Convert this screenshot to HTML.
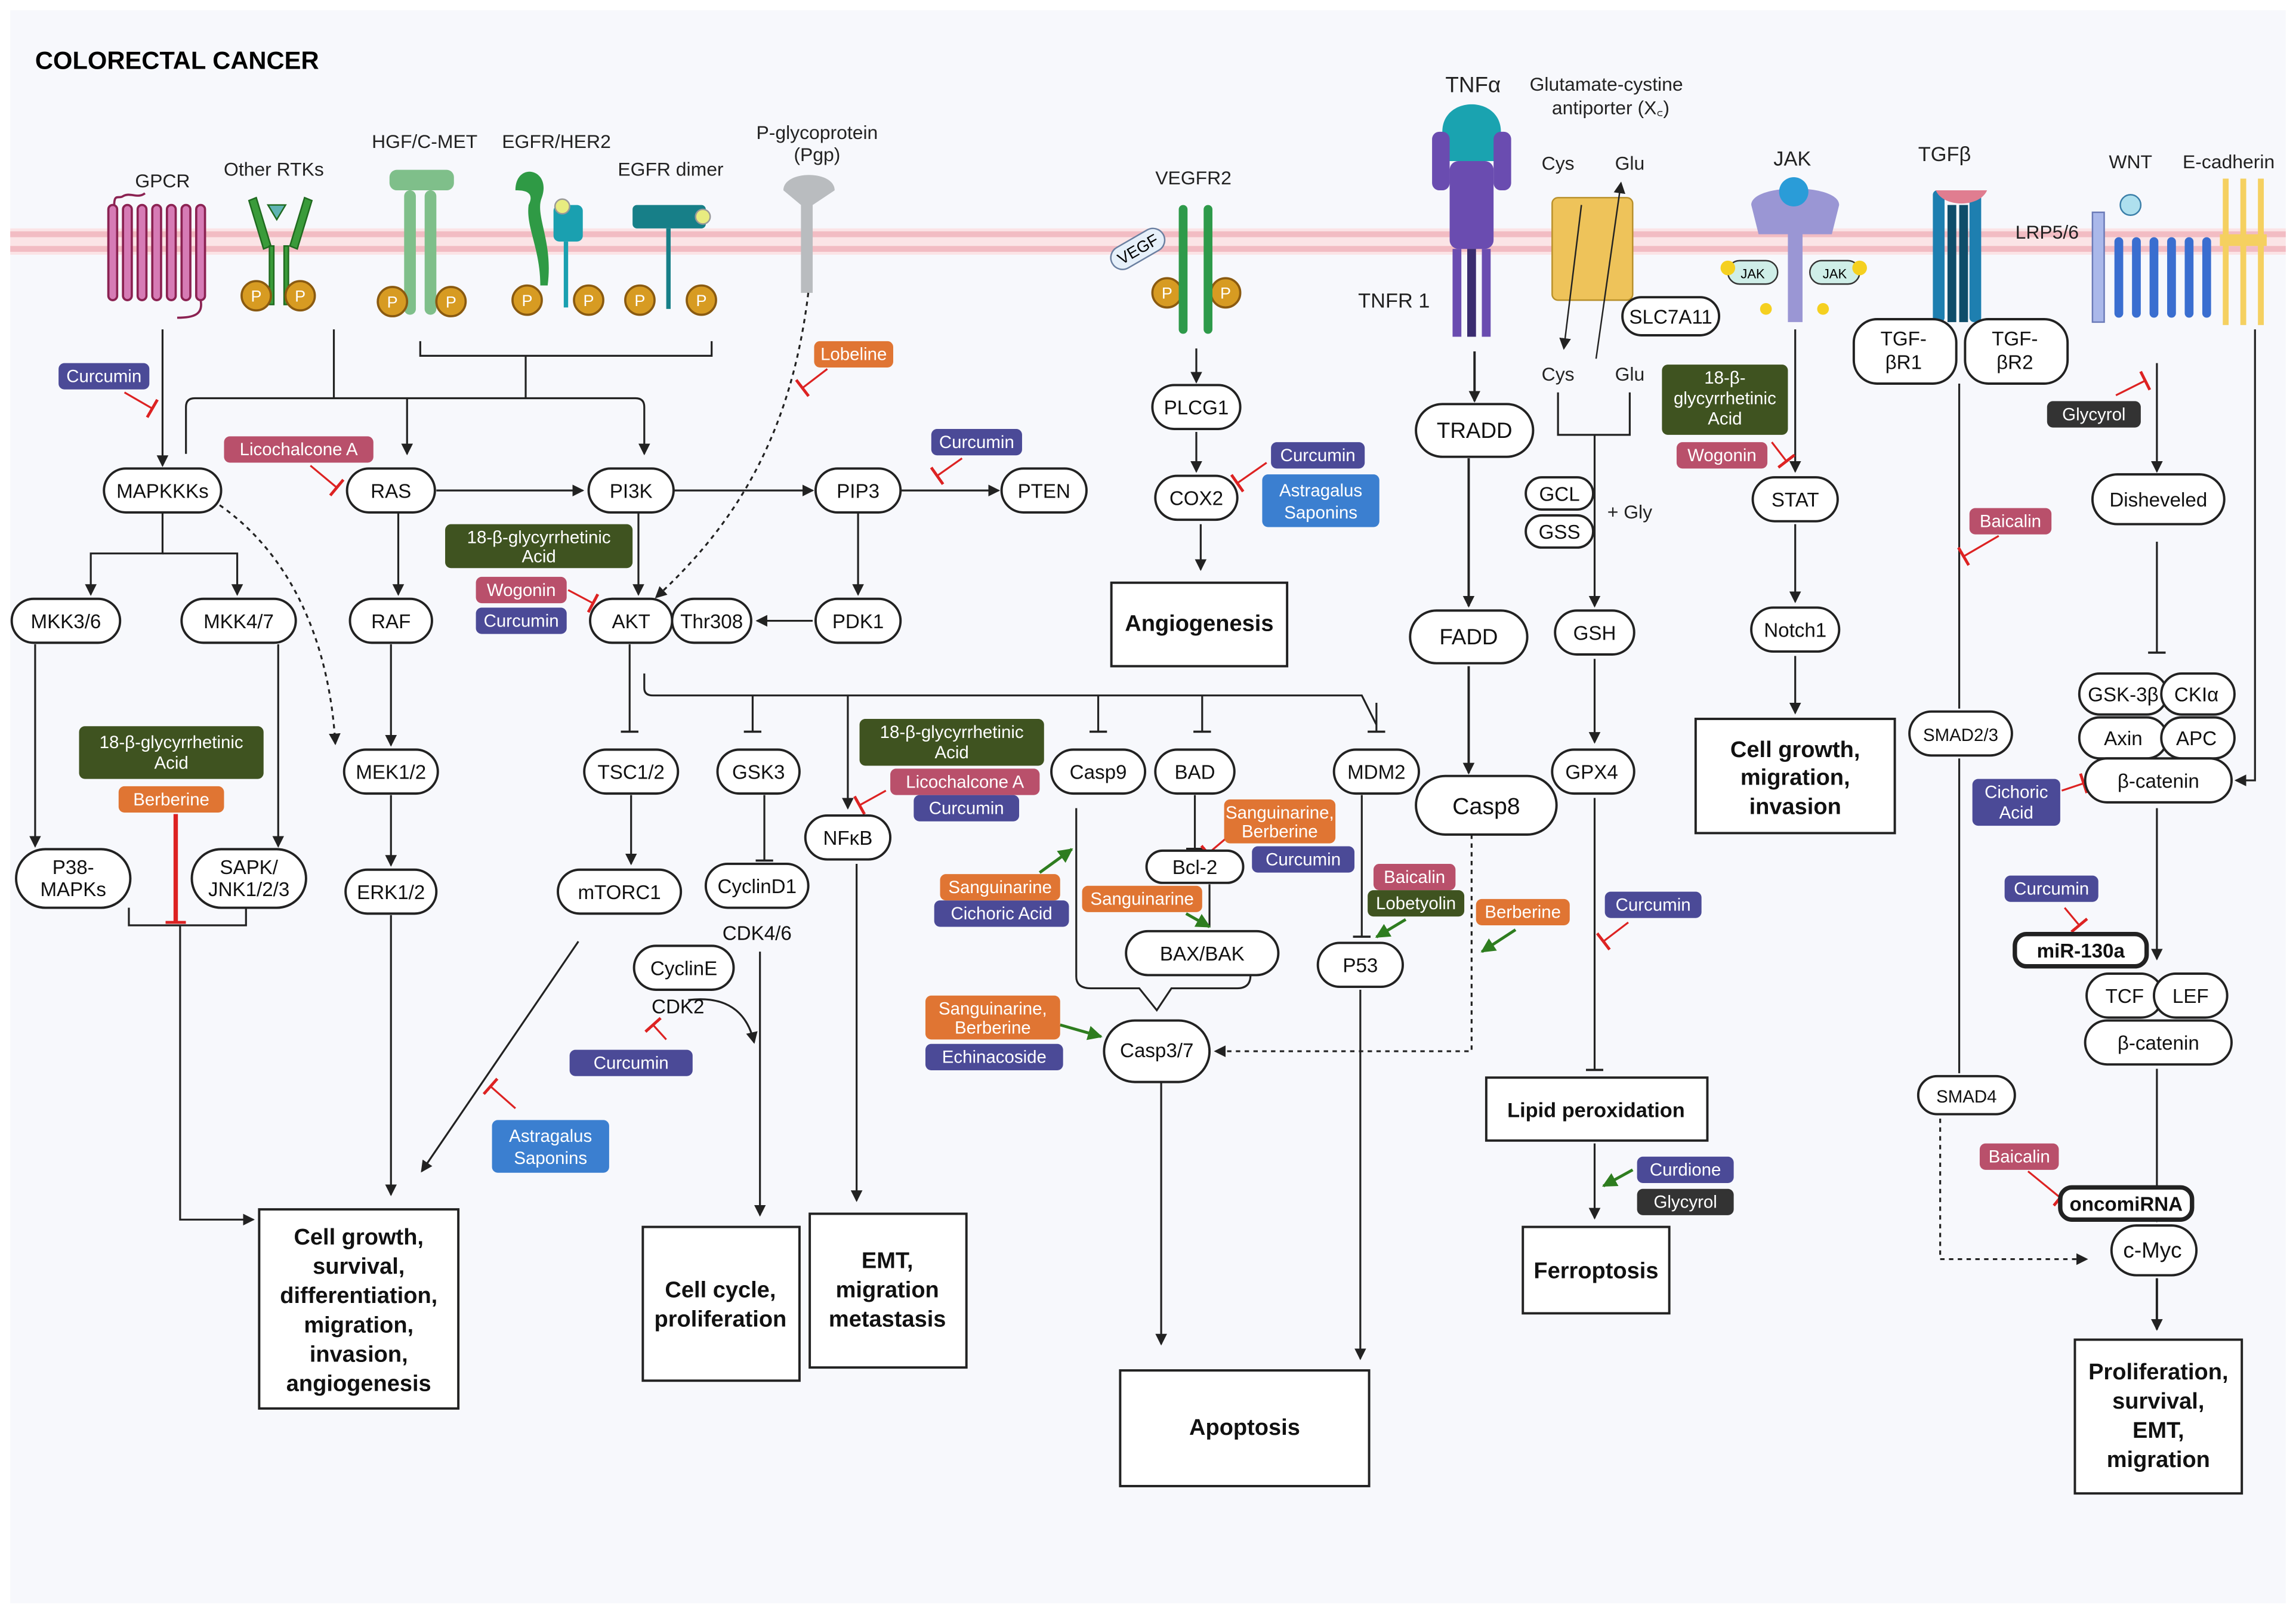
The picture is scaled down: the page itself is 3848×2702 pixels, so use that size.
<!DOCTYPE html>
<html><head><meta charset="utf-8"><style>
html,body{margin:0;padding:0;background:#fff}
svg{display:block}
text{font-family:"Liberation Sans",sans-serif}
</style></head><body>
<svg width="3848" height="2702" viewBox="0 0 1568 1101" preserveAspectRatio="none" xmlns="http://www.w3.org/2000/svg">
<defs>
<marker id="a" markerWidth="8" markerHeight="8" refX="7" refY="4" orient="auto" markerUnits="userSpaceOnUse"><path d="M0,0 L8,4 L0,8 z" fill="#222"/></marker>
<marker id="b" markerWidth="2" markerHeight="12" refX="1" refY="6" orient="auto" markerUnits="userSpaceOnUse"><rect x="0" y="0" width="1.5" height="12" fill="#222"/></marker>
<marker id="r" markerWidth="3" markerHeight="14" refX="1" refY="7" orient="auto" markerUnits="userSpaceOnUse"><rect x="0" y="0" width="2" height="14" fill="#d22"/></marker>
<marker id="g" markerWidth="10" markerHeight="10" refX="9" refY="5" orient="auto" markerUnits="userSpaceOnUse"><path d="M0,0 L10,5 L0,10 z" fill="#2e7d1f"/></marker>
</defs>
<rect x="0" y="0" width="1568" height="1101" fill="#fff"/>
<rect x="7" y="7" width="1554" height="1088" fill="#f7f8fc"/>
<rect x="7" y="156" width="1554" height="18" fill="#fbe4e6"/>
<rect x="7" y="158" width="1554" height="4" fill="#f2bcc3"/>
<rect x="7" y="168" width="1554" height="4" fill="#f2bcc3"/>
<text x="24" y="47" font-size="17" font-weight="bold">COLORECTAL CANCER</text>

<g font-size="13" text-anchor="middle" fill="#222">
<text x="111" y="128">GPCR</text><text x="187" y="120">Other RTKs</text><text x="290" y="101">HGF/C-MET</text>
<text x="380" y="101">EGFR/HER2</text><text x="458" y="120">EGFR dimer</text>
<text x="558" y="95">P-glycoprotein</text><text x="558" y="110">(Pgp)</text>
<text x="815" y="126">VEGFR2</text><text x="1006" y="63" font-size="15">TNFα</text>
<text x="1097" y="62">Glutamate-cystine</text><text x="1100" y="78">antiporter (X꜀)</text>
<text x="1064" y="116">Cys</text><text x="1113" y="116">Glu</text>
<text x="1064" y="260">Cys</text><text x="1113" y="260">Glu</text><text x="1113" y="354">+ Gly</text>
<text x="1224" y="113" font-size="14">JAK</text><text x="1328" y="110" font-size="14">TGFβ</text>
<text x="1455" y="115">WNT</text><text x="1522" y="115">E-cadherin</text>
<text x="1398" y="163">LRP5/6</text><text x="952" y="210" font-size="14">TNFR 1</text>
</g>

<g stroke="#8b2252" stroke-width="1.5" fill="#d67bb5">
<path d="M78,140 c0,-8 3,-4 6,-6 c5,-3 10,2 15,-2" fill="none"/>
<rect x="74" y="140" width="6" height="65" rx="3"/><rect x="84" y="140" width="6" height="65" rx="3"/><rect x="94" y="140" width="6" height="65" rx="3"/><rect x="104" y="140" width="6" height="65" rx="3"/><rect x="114" y="140" width="6" height="65" rx="3"/><rect x="124" y="140" width="6" height="65" rx="3"/><rect x="134" y="140" width="6" height="65" rx="3"/>
<path d="M137,205 c2,10 -5,12 -16,12" fill="none"/>
</g>
<g fill="#3a9b3a" stroke="#1f6a1f">
<path d="M175,135 l10,33 l-5,2 l-10,-33 z"/><path d="M208,135 l-10,33 l5,2 l10,-33 z"/>
<polygon points="183,140 195,140 189,150" fill="#5fb3b3"/>
<rect x="184" y="168" width="3" height="40"/><rect x="194" y="168" width="3" height="40"/>
</g>
<g fill="#7fbf8a" stroke="none">
<rect x="266" y="116" width="44" height="14" rx="5"/><rect x="276" y="130" width="8" height="85" rx="4"/><rect x="290" y="130" width="8" height="85" rx="4"/>
</g>
<g fill="#2f9a45"><path d="M352,130 c0,-20 25,-15 18,5 c-5,12 8,30 4,60 l-5,0 c0,-25 -10,-40 -8,-55 c5,-10 -5,-10 -9,-10z"/></g>
<g fill="#1aa0b0"><rect x="378" y="140" width="20" height="25" rx="4"/><rect x="385" y="165" width="3" height="45"/></g>
<circle cx="384" cy="141" r="5" fill="#e8ec80" stroke="#999"/>
<g fill="#177f88"><rect x="432" y="140" width="50" height="16" rx="3"/><rect x="455" y="156" width="3" height="55"/></g>
<circle cx="480" cy="148" r="5" fill="#e8ec80" stroke="#999"/>
<path d="M535,130 c0,-14 35,-14 35,0 l-15,10 l0,60 l-8,0 l0,-60 z" fill="#b9bcbf"/>
<g fill="#d79b22" stroke="#8a5a10" stroke-width="1.5" font-size="11">
<circle cx="175" cy="202" r="10"/><circle cx="205" cy="202" r="10"/>
<circle cx="268" cy="206" r="10"/><circle cx="308" cy="206" r="10"/>
<circle cx="360" cy="205" r="10"/><circle cx="402" cy="205" r="10"/>
<circle cx="437" cy="205" r="10"/><circle cx="479" cy="205" r="10"/>
<circle cx="797" cy="200" r="10"/><circle cx="837" cy="200" r="10"/>
</g>
<g fill="#fff" font-size="11" text-anchor="middle"><text x="175" y="206">P</text><text x="205" y="206">P</text><text x="268" y="210">P</text><text x="308" y="210">P</text><text x="360" y="209">P</text><text x="402" y="209">P</text><text x="437" y="209">P</text><text x="479" y="209">P</text><text x="797" y="204">P</text><text x="837" y="204">P</text></g>
<g fill="#2e9a4a"><rect x="805" y="140" width="6" height="88" rx="3"/><rect x="822" y="140" width="6" height="88" rx="3"/></g>
<rect x="757" y="162" width="40" height="16" rx="8" fill="#e6f0fa" stroke="#6a7fa0" transform="rotate(-30 777 170)"/><text x="777" y="174" font-size="11" text-anchor="middle" transform="rotate(-30 777 170)">VEGF</text>
<path d="M985,90 c0,-25 40,-25 40,0 l0,20 l-40,0z" fill="#1aa3b0"/>
<g fill="#6a4cb0"><rect x="978" y="90" width="12" height="40" rx="5"/><rect x="1020" y="90" width="12" height="40" rx="5"/><rect x="990" y="110" width="30" height="60" rx="6"/><rect x="992" y="170" width="6" height="60"/><rect x="1012" y="170" width="6" height="60"/><rect x="1002" y="170" width="6" height="60" fill="#3a2c70"/></g>
<g fill="#eec35a" stroke="#b8902a"><rect x="1060" y="135" width="55" height="70" rx="4"/></g>
<path d="M1080,140 L1068,238" stroke="#222" marker-end="url(#a)"/><path d="M1090,245 L1107,125" stroke="#222" marker-end="url(#a)"/>
<path d="M1196,140 c0,-15 60,-15 60,0 l-5,20 l-20,0 l0,60 l-10,0 l0,-60 l-20,0z" fill="#9a96d4"/>
<circle cx="1225" cy="131" r="10" fill="#2a9cd8"/>
<rect x="1180" y="178" width="34" height="16" rx="8" fill="#cfeee8" stroke="#333"/><rect x="1236" y="178" width="34" height="16" rx="8" fill="#cfeee8" stroke="#333"/>
<text x="1197" y="190" font-size="9" text-anchor="middle">JAK</text><text x="1253" y="190" font-size="9" text-anchor="middle">JAK</text>
<circle cx="1180" cy="183" r="5" fill="#f5d020"/><circle cx="1270" cy="183" r="5" fill="#f5d020"/><circle cx="1206" cy="211" r="4" fill="#f5d020"/><circle cx="1245" cy="211" r="4" fill="#f5d020"/>
<g fill="#1e7fb0"><rect x="1320" y="130" width="8" height="90" rx="3"/><rect x="1345" y="130" width="8" height="90" rx="3"/><rect x="1330" y="140" width="6" height="80" fill="#0f4d6a"/><rect x="1338" y="140" width="6" height="80" fill="#0f4d6a"/></g>
<path d="M1322,130 c5,12 30,12 35,0" fill="#e07d90"/>
<circle cx="1455" cy="140" r="7" fill="#aee0ee" stroke="#3a7ea8"/>
<rect x="1429" y="145" width="8" height="75" fill="#aab8ea" stroke="#6a7ab8"/>
<g fill="#3a6ed0"><rect x="1444" y="162" width="6" height="55" rx="3"/><rect x="1456" y="162" width="6" height="55" rx="3"/><rect x="1468" y="162" width="6" height="55" rx="3"/><rect x="1480" y="162" width="6" height="55" rx="3"/><rect x="1492" y="162" width="6" height="55" rx="3"/><rect x="1504" y="162" width="6" height="55" rx="3"/></g>
<g fill="#f5d060"><rect x="1518" y="122" width="4" height="100"/><rect x="1530" y="122" width="4" height="100"/><rect x="1542" y="122" width="4" height="100"/><rect x="1516" y="160" width="32" height="8"/></g>

<g stroke="#222" stroke-width="1.3" fill="none">
<path d="M111,225 V318" marker-end="url(#a)"/>
<path d="M228,225 V272"/>
<path d="M287,233 v10 h199 v-10"/><path d="M359,243 V272"/>
<path d="M127,310 V278 q0,-6 6,-6 H434 q6,0 6,6 V310" marker-end="url(#a)"/>
<path d="M278,272 V310" marker-end="url(#a)"/>
<path d="M298,335 H398" marker-end="url(#a)"/>
<path d="M460,335 H555" marker-end="url(#a)"/>
<path d="M615,335 H682" marker-end="url(#a)"/>
<path d="M586,350 V406" marker-end="url(#a)"/>
<path d="M555,424 H517" marker-end="url(#a)"/>
<path d="M436,350 V406" marker-end="url(#a)"/>
<path d="M552,200 C540,300 500,360 448,408" stroke-dasharray="3,3" marker-end="url(#a)"/>
<path d="M150,345 C200,380 225,440 229,508" stroke-dasharray="3,3" marker-end="url(#a)"/>
<path d="M111,350 V378 H62 V406" marker-end="url(#a)"/><path d="M111,378 H162 V406" marker-end="url(#a)"/>
<path d="M272,350 V406" marker-end="url(#a)"/>
<path d="M267,440 V509" marker-end="url(#a)"/>
<path d="M267,543 V591" marker-end="url(#a)"/>
<path d="M267,625 V816" marker-end="url(#a)"/>
<path d="M24,440 V578" marker-end="url(#a)"/>
<path d="M190,440 V578" marker-end="url(#a)"/>
<path d="M88,620 v12 h80 v-12"/><path d="M123,632 V833 H173" marker-end="url(#a)"/>
<path d="M395,643 L288,800" marker-end="url(#a)"/>
<path d="M430,440 V500" marker-end="url(#b)"/>
<path d="M440,460 V470 q0,5 6,5 H930 L940,495" /><path d="M940,480 L940,500" marker-end="url(#b)"/>
<path d="M514,475 V500" marker-end="url(#b)"/>
<path d="M579,475 V552" marker-end="url(#a)"/>
<path d="M750,475 V500" marker-end="url(#b)"/>
<path d="M821,475 V500" marker-end="url(#b)"/>
<path d="M431,543 V590" marker-end="url(#a)"/>
<path d="M522,543 V588" marker-end="url(#b)"/>
<path d="M519,650 V830" marker-end="url(#a)"/>
<path d="M470,683 C495,680 510,690 515,712" marker-end="url(#a)"/>
<path d="M585,590 V820" marker-end="url(#a)"/>
<path d="M735,552 V667 q0,8 10,8 H778 L790,690 L800,675 H845 q9,0 9,-9"/>
<path d="M816,543 V580" marker-end="url(#b)"/>
<path d="M826,604 V633"/>
<path d="M793,737 V918" marker-end="url(#a)"/>
<path d="M930,543 V640" marker-end="url(#b)"/>
<path d="M929,676 V928" marker-end="url(#a)"/>
<path d="M1005,570 V718 H830" stroke-dasharray="3,3" marker-end="url(#a)"/>
<path d="M1007,240 V274" marker-end="url(#a)" stroke-width="1.6"/>
<path d="M1003,313 V414" marker-end="url(#a)" stroke-width="1.6"/>
<path d="M1003,455 V528" marker-end="url(#a)" stroke-width="1.6"/>
<path d="M1064,268 V297 H1113 V268"/><path d="M1089,297 V414" marker-end="url(#a)"/>
<path d="M1089,450 V507" marker-end="url(#a)"/>
<path d="M1089,545 V731" marker-end="url(#b)"/>
<path d="M1089,781 V832" marker-end="url(#a)"/>
<path d="M1226,225 V322" marker-end="url(#a)"/>
<path d="M1226,358 V411" marker-end="url(#a)"/>
<path d="M1226,448 V487" marker-end="url(#a)"/>
<path d="M1338,262 V484"/>
<path d="M1338,518 V733"/>
<path d="M1325,764 V860 H1425" stroke-dasharray="3,3" marker-end="url(#a)"/>
<path d="M1473,248 V322" marker-end="url(#a)"/>
<path d="M1473,370 V446" marker-end="url(#b)"/>
<path d="M1540,225 V533 H1527" marker-end="url(#a)"/>
<path d="M1473,552 V655" marker-end="url(#a)"/>
<path d="M1473,730 V834" marker-end="url(#a)"/>
<path d="M1473,873 V908" marker-end="url(#a)" stroke-width="1.6"/>
<path d="M817,238 V261" marker-end="url(#a)"/>
<path d="M817,295 V322" marker-end="url(#a)"/>
<path d="M820,358 V389" marker-end="url(#a)"/>
</g>

<g stroke="#d22" stroke-width="1.3" fill="none">
<path d="M85,268 L104,279" marker-end="url(#r)"/>
<path d="M212,318 L230,333" marker-end="url(#r)"/>
<path d="M565,252 L548,265" marker-end="url(#r)"/>
<path d="M657,313 L640,325" marker-end="url(#r)"/>
<path d="M388,403 L405,412" marker-end="url(#r)"/>
<path d="M865,316 L845,330" marker-end="url(#r)"/>
<path d="M120,556 V630" stroke-width="3" marker-end="url(#r)"/>
<path d="M605,540 L587,550" marker-end="url(#r)"/>
<path d="M838,572 L825,583" marker-end="url(#r)"/>
<path d="M455,710 L446,700" marker-end="url(#r)"/>
<path d="M352,757 L335,742" marker-end="url(#r)"/>
<path d="M1112,630 L1095,643" marker-end="url(#r)"/>
<path d="M1210,302 L1220,315" marker-end="url(#r)"/>
<path d="M1445,270 L1465,260" marker-end="url(#r)"/>
<path d="M1365,366 L1341,380" marker-end="url(#r)"/>
<path d="M1408,540 L1423,535" marker-end="url(#r)"/>
<path d="M1410,620 L1420,632" marker-end="url(#r)"/>
<path d="M1385,800 L1407,818" marker-end="url(#r)"/>
</g>
<g stroke="#2e7d1f" stroke-width="2" fill="none">
<path d="M710,596 L732,580" marker-end="url(#g)"/>
<path d="M810,624 L826,633" marker-end="url(#g)"/>
<path d="M960,628 L940,640" marker-end="url(#g)"/>
<path d="M1035,635 L1012,650" marker-end="url(#g)"/>
<path d="M724,700 L752,708" marker-end="url(#g)"/>
<path d="M1115,799 L1095,810" marker-end="url(#g)"/>
</g>

<g fill="#fff" stroke="#222" stroke-width="1.6">
<rect x="71" y="320" width="80" height="30" rx="15"/>
<rect x="237" y="320" width="60" height="30" rx="15"/>
<rect x="402" y="320" width="58" height="30" rx="15"/>
<rect x="557" y="320" width="58" height="30" rx="15"/>
<rect x="684" y="320" width="58" height="30" rx="15"/>
<rect x="403" y="409" width="56" height="30" rx="15"/>
<rect x="459" y="409" width="54" height="30" rx="15"/>
<rect x="557" y="409" width="58" height="30" rx="15"/>
<rect x="8" y="409" width="74" height="30" rx="15"/>
<rect x="124" y="409" width="78" height="30" rx="15"/>
<rect x="239" y="409" width="56" height="30" rx="15"/>
<rect x="235" y="512" width="64" height="30" rx="15"/>
<rect x="236" y="594" width="62" height="30" rx="15"/>
<rect x="11" y="580" width="78" height="40" rx="20"/>
<rect x="131" y="580" width="78" height="40" rx="20"/>
<rect x="399" y="512" width="64" height="30" rx="15"/>
<rect x="381" y="594" width="84" height="30" rx="15"/>
<rect x="490" y="512" width="56" height="30" rx="15"/>
<rect x="482" y="590" width="70" height="30" rx="15"/>
<rect x="433" y="646" width="68" height="30" rx="15"/>
<rect x="550" y="557" width="58" height="30" rx="15"/>
<rect x="718" y="512" width="64" height="30" rx="15"/>
<rect x="789" y="512" width="54" height="30" rx="15"/>
<rect x="783" y="581" width="66" height="22" rx="11"/>
<rect x="769" y="636" width="104" height="30" rx="15"/>
<rect x="754" y="697" width="72" height="42" rx="21"/>
<rect x="911" y="512" width="58" height="30" rx="15"/>
<rect x="900" y="644" width="58" height="30" rx="15"/>
<rect x="787" y="263" width="60" height="30" rx="15"/>
<rect x="789" y="325" width="56" height="30" rx="15"/>
<rect x="967" y="276" width="80" height="36" rx="18"/>
<rect x="963" y="417" width="80" height="36" rx="18"/>
<rect x="967" y="530" width="96" height="40" rx="20"/>
<rect x="1042" y="326" width="46" height="22" rx="11"/>
<rect x="1042" y="352" width="46" height="22" rx="11"/>
<rect x="1062" y="417" width="54" height="30" rx="15"/>
<rect x="1060" y="512" width="56" height="30" rx="15"/>
<rect x="1108" y="203" width="66" height="26" rx="13"/>
<rect x="1197" y="326" width="58" height="30" rx="15"/>
<rect x="1196" y="415" width="60" height="30" rx="15"/>
<rect x="1266" y="218" width="70" height="44" rx="16"/>
<rect x="1342" y="218" width="70" height="44" rx="16"/>
<rect x="1304" y="486" width="70" height="30" rx="15"/>
<rect x="1310" y="735" width="66" height="26" rx="13"/>
<rect x="1429" y="324" width="90" height="34" rx="17"/>
<rect x="1420" y="460" width="60" height="28" rx="14"/>
<rect x="1476" y="460" width="50" height="28" rx="14"/>
<rect x="1420" y="490" width="60" height="28" rx="14"/>
<rect x="1476" y="490" width="50" height="28" rx="14"/>
<rect x="1424" y="518" width="100" height="30" rx="15"/>
<rect x="1376" y="638" width="90" height="22" rx="8" stroke-width="3"/>
<rect x="1425" y="665" width="52" height="30" rx="15"/>
<rect x="1471" y="665" width="50" height="30" rx="15"/>
<rect x="1424" y="697" width="100" height="30" rx="15"/>
<rect x="1407" y="811" width="90" height="22" rx="8" stroke-width="3"/>
<rect x="1442" y="837" width="58" height="34" rx="17"/>
<rect x="759" y="398" width="120" height="57"/>
<rect x="1158" y="491" width="136" height="78"/>
<rect x="1417" y="915" width="114" height="105"/>
<rect x="1015" y="736" width="151" height="43"/>
<rect x="1040" y="838" width="100" height="59"/>
<rect x="765" y="936" width="170" height="79"/>
<rect x="439" y="838" width="107" height="105"/>
<rect x="553" y="829" width="107" height="105"/>
<rect x="177" y="826" width="136" height="136"/>
</g>

<g font-size="13.5" text-anchor="middle" fill="#111">
<text x="111" y="340">MAPKKKs</text><text x="267" y="340">RAS</text><text x="431" y="340">PI3K</text><text x="586" y="340">PIP3</text><text x="713" y="340">PTEN</text>
<text x="431" y="429">AKT</text><text x="486" y="429">Thr308</text><text x="586" y="429">PDK1</text>
<text x="45" y="429">MKK3/6</text><text x="163" y="429">MKK4/7</text><text x="267" y="429">RAF</text>
<text x="267" y="532">MEK1/2</text><text x="267" y="614">ERK1/2</text>
<text x="50" y="597">P38-</text><text x="50" y="612">MAPKs</text><text x="170" y="597">SAPK/</text><text x="170" y="612">JNK1/2/3</text>
<text x="431" y="532">TSC1/2</text><text x="423" y="614">mTORC1</text><text x="518" y="532">GSK3</text><text x="517" y="610">CyclinD1</text><text x="517" y="642">CDK4/6</text>
<text x="467" y="666">CyclinE</text><text x="463" y="692">CDK2</text><text x="579" y="577">NFκB</text>
<text x="750" y="532">Casp9</text><text x="816" y="532">BAD</text><text x="816" y="597">Bcl-2</text><text x="821" y="656">BAX/BAK</text><text x="790" y="722">Casp3/7</text>
<text x="940" y="532">MDM2</text><text x="929" y="664">P53</text><text x="817" y="283">PLCG1</text><text x="817" y="345">COX2</text>
<text x="1007" y="299" font-size="15">TRADD</text><text x="1003" y="440" font-size="15">FADD</text><text x="1015" y="556" font-size="16">Casp8</text>
<text x="1065" y="342">GCL</text><text x="1065" y="368">GSS</text><text x="1089" y="437">GSH</text><text x="1087" y="532">GPX4</text>
<text x="1141" y="221">SLC7A11</text><text x="1226" y="346">STAT</text><text x="1226" y="435">Notch1</text>
<text x="1300" y="236">TGF-</text><text x="1300" y="252">βR1</text><text x="1376" y="236">TGF-</text><text x="1376" y="252">βR2</text>
<text x="1339" y="506" font-size="12">SMAD2/3</text><text x="1343" y="753" font-size="12">SMAD4</text>
<text x="1474" y="346">Disheveled</text><text x="1450" y="479">GSK-3β</text><text x="1500" y="479">CKIα</text><text x="1450" y="509">Axin</text><text x="1500" y="509">APC</text>
<text x="1474" y="538">β-catenin</text><text x="1421" y="654" font-weight="bold">miR-130a</text><text x="1451" y="685">TCF</text><text x="1496" y="685">LEF</text>
<text x="1474" y="717">β-catenin</text><text x="1452" y="827" font-weight="bold">oncomiRNA</text><text x="1470" y="859" font-size="15">c-Myc</text>
</g>
<g font-size="15.5" font-weight="bold" text-anchor="middle" fill="#111">
<text x="819" y="431">Angiogenesis</text>
<text x="1226" y="517">Cell growth,</text><text x="1226" y="536">migration,</text><text x="1226" y="556">invasion</text>
<text x="1474" y="942">Proliferation,</text><text x="1474" y="962">survival,</text><text x="1474" y="982">EMT,</text><text x="1474" y="1002">migration</text>
<text x="1090" y="763" font-size="14">Lipid peroxidation</text><text x="1090" y="873">Ferroptosis</text>
<text x="850" y="980">Apoptosis</text>
<text x="492" y="886">Cell cycle,</text><text x="492" y="906">proliferation</text>
<text x="606" y="866">EMT,</text><text x="606" y="886">migration</text><text x="606" y="906">metastasis</text>
<text x="245" y="850">Cell growth,</text><text x="245" y="870">survival,</text><text x="245" y="890">differentiation,</text><text x="245" y="910">migration,</text><text x="245" y="930">invasion,</text><text x="245" y="950">angiogenesis</text>
</g>

<g stroke="none">
<g fill="#4b4a97">
<rect x="40" y="248" width="62" height="18" rx="4"/><rect x="636" y="293" width="62" height="18" rx="4"/><rect x="325" y="415" width="62" height="18" rx="4"/>
<rect x="868" y="302" width="64" height="18" rx="4"/><rect x="624" y="543" width="72" height="18" rx="4"/><rect x="855" y="578" width="70" height="18" rx="4"/>
<rect x="638" y="615" width="92" height="18" rx="4"/><rect x="632" y="713" width="94" height="18" rx="4"/><rect x="389" y="717" width="84" height="18" rx="4"/>
<rect x="1096" y="609" width="66" height="18" rx="4"/><rect x="1347" y="532" width="60" height="32" rx="4"/><rect x="1369" y="598" width="64" height="18" rx="4"/>
<rect x="1118" y="790" width="66" height="18" rx="4"/>
</g>
<g fill="#b9506b">
<rect x="153" y="298" width="102" height="18" rx="4"/><rect x="325" y="394" width="62" height="18" rx="4"/><rect x="608" y="525" width="102" height="18" rx="4"/>
<rect x="938" y="590" width="56" height="18" rx="4"/><rect x="1145" y="302" width="62" height="18" rx="4"/><rect x="1345" y="347" width="56" height="18" rx="4"/>
<rect x="1352" y="781" width="54" height="18" rx="4"/>
</g>
<g fill="#3f5320">
<rect x="304" y="358" width="128" height="30" rx="4"/><rect x="54" y="496" width="126" height="36" rx="4"/><rect x="587" y="491" width="126" height="32" rx="4"/>
<rect x="934" y="608" width="66" height="18" rx="4"/><rect x="1135" y="249" width="86" height="48" rx="4"/>
</g>
<g fill="#e07533">
<rect x="556" y="233" width="54" height="18" rx="4"/><rect x="81" y="537" width="72" height="18" rx="4"/><rect x="836" y="546" width="76" height="30" rx="4"/>
<rect x="642" y="597" width="82" height="18" rx="4"/><rect x="739" y="605" width="82" height="18" rx="4"/><rect x="1008" y="614" width="64" height="18" rx="4"/>
<rect x="632" y="680" width="92" height="30" rx="4"/>
</g>
<g fill="#3b7fd0"><rect x="862" y="324" width="80" height="36" rx="4"/><rect x="336" y="765" width="80" height="36" rx="4"/></g>
<g fill="#333"><rect x="1398" y="274" width="64" height="18" rx="4"/><rect x="1118" y="812" width="66" height="18" rx="4"/></g>
</g>
<g font-size="12" fill="#fff" text-anchor="middle">
<text x="71" y="261">Curcumin</text><text x="667" y="306">Curcumin</text><text x="356" y="428">Curcumin</text><text x="900" y="315">Curcumin</text>
<text x="660" y="556">Curcumin</text><text x="890" y="591">Curcumin</text><text x="684" y="628">Cichoric Acid</text><text x="679" y="726">Echinacoside</text>
<text x="431" y="730">Curcumin</text><text x="1129" y="622">Curcumin</text><text x="1377" y="545">Cichoric</text><text x="1377" y="559">Acid</text>
<text x="1401" y="611">Curcumin</text><text x="1151" y="803">Curdione</text>
<text x="204" y="311">Licochalcone A</text><text x="356" y="407">Wogonin</text><text x="659" y="538">Licochalcone A</text><text x="966" y="603">Baicalin</text>
<text x="1176" y="315">Wogonin</text><text x="1373" y="360">Baicalin</text><text x="1379" y="794">Baicalin</text>
<text x="368" y="371">18-β-glycyrrhetinic</text><text x="368" y="384">Acid</text>
<text x="117" y="511">18-β-glycyrrhetinic</text><text x="117" y="525">Acid</text>
<text x="650" y="504">18-β-glycyrrhetinic</text><text x="650" y="518">Acid</text>
<text x="967" y="621">Lobetyolin</text><text x="1178" y="262">18-β-</text><text x="1178" y="276">glycyrrhetinic</text><text x="1178" y="290">Acid</text>
<text x="583" y="246">Lobeline</text><text x="117" y="550">Berberine</text><text x="874" y="559">Sanguinarine,</text><text x="874" y="572">Berberine</text>
<text x="683" y="610">Sanguinarine</text><text x="780" y="618">Sanguinarine</text><text x="1040" y="627">Berberine</text>
<text x="678" y="693">Sanguinarine,</text><text x="678" y="706">Berberine</text>
<text x="902" y="339">Astragalus</text><text x="902" y="354">Saponins</text><text x="376" y="780">Astragalus</text><text x="376" y="795">Saponins</text>
<text x="1430" y="287">Glycyrol</text><text x="1151" y="825">Glycyrol</text>
</g>
</svg>
</body></html>
